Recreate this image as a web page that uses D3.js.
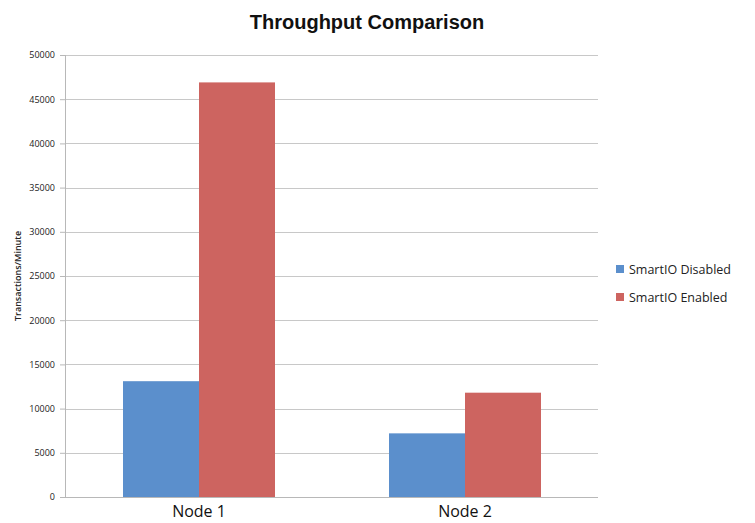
<!DOCTYPE html>
<html>
<head>
<meta charset="utf-8">
<script src="https://cdn.jsdelivr.net/npm/d3@7"></script>
<style>
  html, body { margin: 0; padding: 0; background: #fff; }
  svg { display: block; }
</style>
</head>
<body>
<svg id="chart" width="755" height="523"></svg>
<script>
// Chart data
const categories = ["Node 1", "Node 2"];
const seriesNames = ["SmartIO Disabled", "SmartIO Enabled"];
const disabledValues = [13100, 7200];
const enabledValues = [46900, 11800];
const yTicks = [0, 5000, 10000, 15000, 20000, 25000, 30000, 35000, 40000, 45000, 50000];
const seriesColors = ["#5b8fcc", "#cd6460"];

const svg = d3.select("#chart");
const plot = { left: 66, right: 598, top: 55, bottom: 497 };

const x = d3.scaleBand().domain(categories).range([plot.left, plot.right]).paddingInner(0).paddingOuter(0);
const y = d3.scaleLinear().domain([0, 50000]).range([plot.bottom, plot.top]);
const inner = d3.scaleBand().domain(seriesNames).range([0, 152]);

// Title
svg.append("text")
  .attr("x", 367).attr("y", 29)
  .attr("text-anchor", "middle")
  .style("font-family", "Liberation Sans, Arial, sans-serif")
  .style("font-weight", "bold").style("font-size", "20px")
  .attr("fill", "#111")
  .text("Throughput Comparison");

// Gridlines and y axis
const yAxis = d3.axisLeft(y).tickValues(yTicks).tickSize(6).tickPadding(5).tickFormat(d3.format("d"));
const gY = svg.append("g").attr("transform", `translate(${plot.left},0)`).call(yAxis);
gY.select(".domain").attr("stroke", "#b8b8b8").attr("d", `M-0.5,${plot.top}V${plot.bottom}`);
gY.selectAll(".tick line").attr("stroke", "#b8b8b8");
gY.selectAll(".tick text")
  .style("font-family", "Open Sans, DejaVu Sans, sans-serif")
  .style("font-size", "9px").attr("fill", "#222");

svg.append("g").selectAll("line").data(yTicks.filter(d => d > 0)).join("line")
  .attr("x1", plot.left).attr("x2", plot.right)
  .attr("y1", d => Math.round(y(d)) + 0.5).attr("y2", d => Math.round(y(d)) + 0.5)
  .attr("stroke", "#c8c8c8").attr("stroke-width", 1.2);

// Bars
const rows = categories.map((c, i) => ({ cat: c, vals: [disabledValues[i], enabledValues[i]] }));
const groups = svg.append("g").selectAll("g").data(rows).join("g")
  .attr("transform", d => `translate(${x(d.cat) + x.bandwidth() / 2 - 76},0)`);
groups.selectAll("rect").data(d => d.vals.map((v, j) => ({ v, s: seriesNames[j], j }))).join("rect")
  .attr("x", d => inner(d.s)).attr("width", inner.bandwidth())
  .attr("y", d => y(d.v)).attr("height", d => y(0) - y(d.v))
  .attr("fill", d => seriesColors[d.j]);

// X axis baseline and labels
svg.append("line")
  .attr("x1", plot.left).attr("x2", plot.right)
  .attr("y1", plot.bottom + 0.5).attr("y2", plot.bottom + 0.5)
  .attr("stroke", "#b8b8b8");
svg.append("g").selectAll("text").data(categories).join("text")
  .attr("x", d => x(d) + x.bandwidth() / 2).attr("y", 517)
  .attr("text-anchor", "middle")
  .style("font-family", "Open Sans, DejaVu Sans, sans-serif")
  .style("font-size", "16px").attr("fill", "#111")
  .text(d => d);

// Y axis title
svg.append("text")
  .attr("transform", "translate(21,276) rotate(-90)")
  .attr("text-anchor", "middle")
  .style("font-family", "Open Sans, DejaVu Sans, sans-serif")
  .style("font-size", "9px").style("font-weight", "600").attr("fill", "#222")
  .text("Transactions/Minute");

// Legend
const legend = svg.append("g").selectAll("g").data(seriesNames).join("g")
  .attr("transform", (d, i) => `translate(616,${265 + i * 28})`);
legend.append("rect").attr("width", 8).attr("height", 8).attr("fill", (d, i) => seriesColors[i]);
legend.append("text").attr("x", 13).attr("y", 9)
  .style("font-family", "Open Sans, DejaVu Sans, sans-serif")
  .style("font-size", "12.5px").attr("fill", "#222")
  .text(d => d);
</script>
</body>
</html>
